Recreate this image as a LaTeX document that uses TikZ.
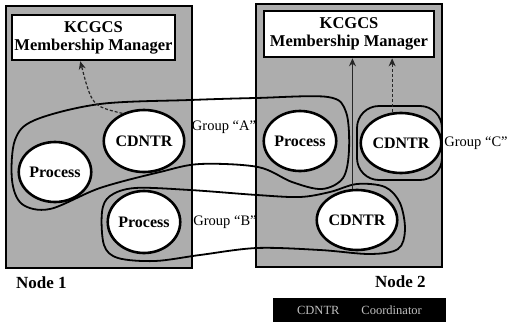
\documentclass[tikz,border=0pt]{standalone}
\usepackage{fontspec}
\setmainfont{Liberation Serif}
\usetikzlibrary{shapes.geometric,arrows.meta,calc}
\definecolor{halftone}{gray}{0.68}
\tikzset{
  hostbox/.style={draw=black, line width=1.6pt, fill=halftone},
  mgrbox/.style={draw=black, line width=2.6pt, fill=white, inner sep=0pt, align=center,
    font=\fontsize{16.5}{18}\selectfont\bfseries},
  proc/.style={ellipse, draw=black, line width=2.6pt, fill=white, inner sep=0pt,
    font=\fontsize{16}{18}\selectfont\bfseries},
  grp/.style={draw=black, line width=1.8pt},
  grplabel/.style={font=\fontsize{14.5}{16}\selectfont, inner sep=0pt},
  hostlabel/.style={font=\fontsize{17}{19}\selectfont\bfseries, inner sep=0pt},
  arr/.style={draw=black!85, line width=1.2pt, -{Stealth[length=8pt,width=7pt]}},
}
\begin{document}
\begin{tikzpicture}[x=1pt,y=-1pt]
\useasboundingbox (0,0) rectangle (509,327);
% host boxes
\draw[hostbox] (6,6) rectangle (192,268);
\draw[hostbox] (256,4) rectangle (442,267);
% membership managers
\node[mgrbox, minimum width=163, minimum height=45] (kc1) at (93.5,37.5) {KCGCS\\Membership Manager};
\node[mgrbox, minimum width=170, minimum height=46] (kc2) at (349,34) {KCGCS\\Membership Manager};
% group outlines
\draw[grp] plot[smooth cycle, tension=0.55] coordinates {
  (35,120) (100,104) (190,100) (256,98) (328,97) (346,112) (349,150) (343,178)
  (322,189) (292,182) (258,167) (200,164) (160,172) (100,188) (50,209) (22,204)
  (12,180) (15,140)};
\draw[grp] plot[smooth cycle, tension=0.55] coordinates {
  (110,196) (135,188) (190,190) (257,195) (300,197) (330,192) (357,184) (385,187)
  (400,203) (405,230) (398,249) (370,254) (320,250) (257,248) (200,255) (155,261)
  (118,258) (104,245) (102,212)};
\draw[grp, rounded corners=22pt] (357,106) rectangle (442,180);
% processes and coordinators
\node[proc, minimum width=66, minimum height=62] (cd1) at (144,141) {CDNTR};
\node[proc, minimum width=68, minimum height=60] (pr1) at (55,172) {Process};
\node[proc, minimum width=68, minimum height=62] (pr2) at (144,222) {Process};
\node[proc, minimum width=70, minimum height=60] (pr3) at (300,141) {Process};
\node[proc, minimum width=70, minimum height=60] (cd2) at (401,143) {CDNTR};
\node[proc, minimum width=66, minimum height=60] (cd3) at (357,220) {CDNTR};
% arrows to membership managers
\coordinate (a1) at ($(kc1.south west)!0.42!(kc1.south east)$);
\coordinate (a2) at ($(kc2.south west)!0.52!(kc2.south east)$);
\coordinate (a3) at ($(kc2.south west)!0.75!(kc2.south east)$);
\draw[arr, densely dashed] (cd1.128) .. controls (92,106) .. (a1);
\draw[arr] (cd3.north -| a2) -- (a2);
\draw[arr, densely dashed] (cd2.north -| a3) -- (a3);
% labels
\node[grplabel] (gA) at (224,127) {Group “A”};
\node[grplabel] (gB) at (225,222) {Group “B”};
\node[grplabel] (gC) at (476,143) {Group “C”};
\node[hostlabel, anchor=west] (n1) at (16,283) {Node 1};
\node[hostlabel, anchor=west] (n2) at (375,282) {Node 2};
% legend
\node[fill=black, minimum width=173, minimum height=24, inner sep=0pt] (leg) at (359.5,310) {};
\node[font=\fontsize{12.5}{14}\selectfont, text=black!25, inner sep=0pt] (legt) at (leg.center) {CDNTR\hspace{22pt}Coordinator};
\end{tikzpicture}
\end{document}
